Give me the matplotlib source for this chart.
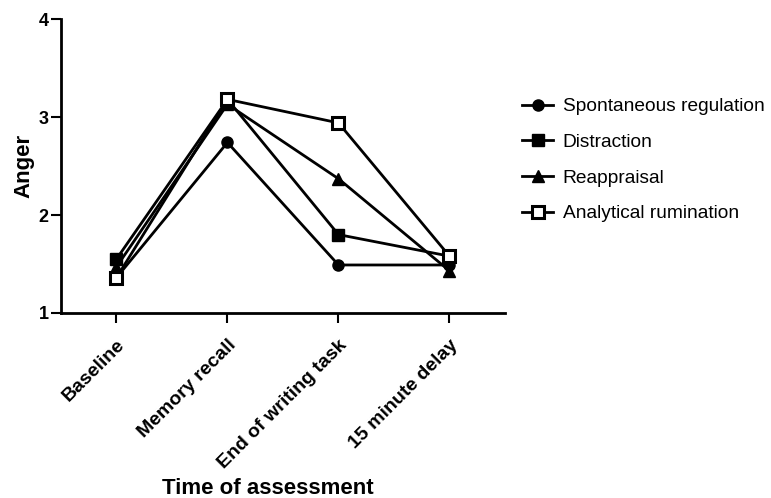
import matplotlib
matplotlib.use("Agg")
import matplotlib.pyplot as plt

plt.rcParams['font.family'] = ['Liberation Sans', 'DejaVu Sans']

times = ["Baseline", "Memory recall", "End of writing task", "15 minute delay"]
spontaneous = [1.36, 2.74, 1.49, 1.49]
distraction = [1.55, 3.18, 1.80, 1.58]
reappraisal = [1.47, 3.13, 2.37, 1.43]
rumination = [1.36, 3.18, 2.94, 1.58]

x = list(range(len(times)))

fig = plt.figure(figsize=(7.71, 4.98), dpi=100)
ax = fig.add_axes([0.079, 0.3715, 0.576, 0.5903])

lw = 2.0
ax.plot(x, spontaneous, color="black", lw=lw, marker="o", ms=8, label="Spontaneous regulation")
ax.plot(x, distraction, color="black", lw=lw, marker="s", ms=8, label="Distraction")
ax.plot(x, reappraisal, color="black", lw=lw, marker="^", ms=8, label="Reappraisal")
ax.plot(x, rumination, color="black", lw=lw, marker="s", ms=9, mfc="white", mew=2.2,
        label="Analytical rumination")

ax.set_xlim(-0.5, 3.5)
ax.set_ylim(1, 4)
ax.set_yticks([1, 2, 3, 4])
ax.set_xticks(x)
ax.set_xticklabels(times, rotation=45, ha="right", rotation_mode="anchor",
                   fontsize=14, fontweight="bold")
for lab in ax.get_yticklabels():
    lab.set_fontsize(13)
    lab.set_fontweight("bold")

for s in ["top", "right"]:
    ax.spines[s].set_visible(False)
for s in ["left", "bottom"]:
    ax.spines[s].set_linewidth(2)
ax.tick_params(width=1.5, length=7)
ax.tick_params(axis="x", pad=10)
ax.tick_params(axis="y", pad=2)

ax.set_ylabel("Anger", fontsize=16, fontweight="bold", labelpad=3)
fig.text(0.348, 0.008, "Time of assessment", fontsize=16, fontweight="bold",
         ha="center", va="baseline")

ax.legend(loc="center left", bbox_to_anchor=(1.0, 0.52), frameon=False,
          fontsize=13.8, handlelength=1.6, labelspacing=0.95, handletextpad=0.5)

fig.savefig("out.png", dpi=100)
